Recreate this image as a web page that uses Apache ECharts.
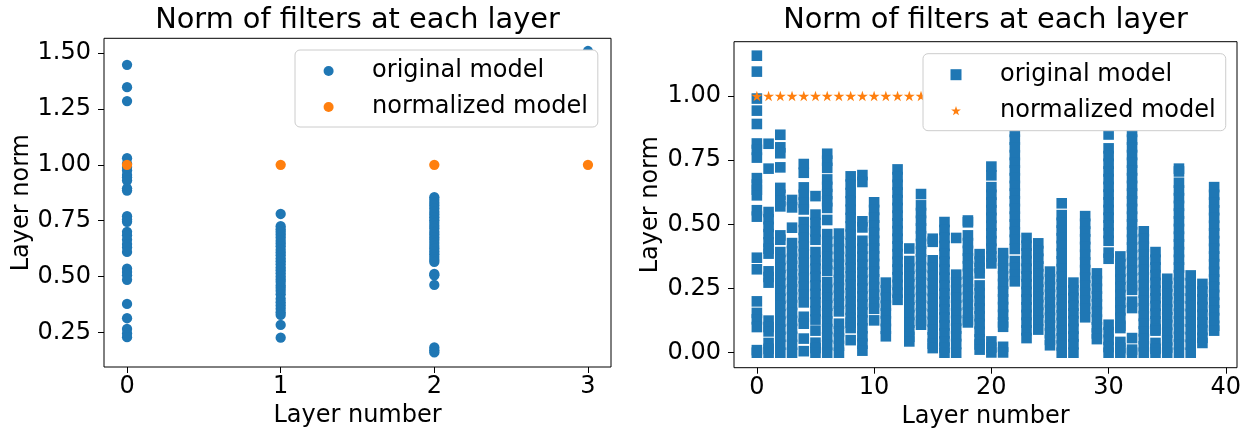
<!DOCTYPE html>
<html>
<head>
<meta charset="utf-8">
<title>Norm of filters at each layer</title>
<script src="https://cdn.jsdelivr.net/npm/echarts@6/dist/echarts.min.js"></script>
<style>
  html, body { margin: 0; padding: 0; background: #ffffff; }
  #chart { width: 1243px; height: 429px; }
</style>
</head>
<body>
<div id="chart"></div>
<script>
// ---- Small model: filter norms per layer (layers 0..3) ----
const leftLayer0 = [1.448, 1.348, 1.286, 1.03, 1.005, 0.99, 0.975, 0.955, 0.945, 0.93, 0.895, 0.885,
  0.77, 0.755, 0.745, 0.70, 0.685, 0.665, 0.645, 0.63, 0.61, 0.535, 0.52, 0.505, 0.485,
  0.377, 0.313, 0.265, 0.245, 0.228];
const leftLayer1 = [0.78, 0.725, 0.712, 0.70, 0.688, 0.675, 0.66, 0.648, 0.635, 0.62, 0.607, 0.595,
  0.58, 0.568, 0.555, 0.54, 0.528, 0.515, 0.50, 0.487, 0.475, 0.46, 0.448, 0.435, 0.42,
  0.40, 0.385, 0.37, 0.355, 0.34, 0.328, 0.283, 0.226];
const leftLayer2 = [0.855, 0.843, 0.83, 0.818, 0.805, 0.79, 0.778, 0.765, 0.752, 0.74, 0.727, 0.715,
  0.70, 0.688, 0.675, 0.663, 0.65, 0.637, 0.625, 0.612, 0.60, 0.587, 0.575, 0.565,
  0.512, 0.505, 0.462, 0.182, 0.17, 0.16];
const leftLayer3 = [1.51];
const leftNormalized = [1.0, 1.0, 1.0, 1.0];

const leftTicksX = [0, 1, 2, 3];
const leftTicksY = [0.25, 0.5, 0.75, 1.0, 1.25, 1.5];

// ---- Deep model: filter norms per layer (layers 0..39) ----
const rightOriginal = [
  [1.157, 1.095, 0.99, 0.943, 0.891, 0.815, 0.79, 0.76, 0.68, 0.655, 0.635, 0.613, 0.555, 0.53, 0.37, 0.325, 0.20, 0.155, 0.13, 0.10, 0.01, 0.0],
  [0.814, 0.717, 0.548, 0.52, 0.49, 0.462, 0.43, 0.405, 0.386, 0.317, 0.295, 0.273, 0.125, 0.10, 0.083, 0.038, 0.015, 0.0],
  [0.849, 0.80, 0.777, 0.722, 0.642, 0.615, 0.59, 0.57, 0.457, 0.44, 0.392, 0.361, 0.33, 0.302, 0.27, 0.241, 0.21, 0.182, 0.15, 0.121, 0.09, 0.062, 0.031, 0.0],
  [0.595, 0.566, 0.487, 0.427, 0.395, 0.366, 0.338, 0.305, 0.276, 0.247, 0.215, 0.186, 0.155, 0.124, 0.093, 0.062, 0.031, 0.0],
  [0.735, 0.701, 0.644, 0.615, 0.585, 0.558, 0.509, 0.478, 0.447, 0.415, 0.384, 0.352, 0.321, 0.29, 0.258, 0.227, 0.196, 0.14, 0.113, 0.055, 0.006],
  [0.61, 0.538, 0.505, 0.472, 0.44, 0.392, 0.36, 0.327, 0.295, 0.262, 0.229, 0.196, 0.162, 0.129, 0.086, 0.039, 0.018, 0.0],
  [0.775, 0.748, 0.72, 0.675, 0.646, 0.618, 0.59, 0.564, 0.517, 0.462, 0.432, 0.403, 0.374, 0.346, 0.319, 0.275, 0.245, 0.214, 0.183, 0.153, 0.122, 0.092, 0.061, 0.03, 0.0],
  [0.464, 0.434, 0.404, 0.373, 0.343, 0.313, 0.283, 0.252, 0.222, 0.191, 0.161, 0.113, 0.083, 0.055, 0.027, 0.0],
  [0.687, 0.655, 0.622, 0.59, 0.557, 0.525, 0.492, 0.46, 0.427, 0.395, 0.362, 0.33, 0.297, 0.265, 0.232, 0.20, 0.167, 0.135, 0.117, 0.096, 0.049],
  [0.692, 0.665, 0.512, 0.488, 0.436, 0.405, 0.374, 0.343, 0.312, 0.281, 0.25, 0.219, 0.188, 0.157, 0.126, 0.095, 0.064, 0.035, 0.008],
  [0.586, 0.556, 0.526, 0.496, 0.466, 0.436, 0.406, 0.376, 0.346, 0.316, 0.286, 0.256, 0.226, 0.196, 0.171, 0.126],
  [0.273, 0.243, 0.213, 0.183, 0.153, 0.123, 0.093, 0.064],
  [0.714, 0.684, 0.654, 0.624, 0.594, 0.564, 0.534, 0.504, 0.474, 0.444, 0.414, 0.384, 0.354, 0.324, 0.294, 0.264, 0.234, 0.206],
  [0.406, 0.357, 0.327, 0.297, 0.267, 0.237, 0.207, 0.177, 0.147, 0.117, 0.087, 0.062, 0.044],
  [0.618, 0.574, 0.544, 0.514, 0.484, 0.454, 0.424, 0.394, 0.364, 0.334, 0.304, 0.274, 0.244, 0.214, 0.184, 0.154, 0.124, 0.109],
  [0.444, 0.432, 0.36, 0.33, 0.30, 0.27, 0.24, 0.21, 0.18, 0.15, 0.12, 0.09, 0.06, 0.035, 0.018],
  [0.509, 0.478, 0.447, 0.416, 0.385, 0.354, 0.323, 0.292, 0.261, 0.23, 0.199, 0.168, 0.137, 0.106, 0.075, 0.044, 0.02, 0.0],
  [0.447, 0.304, 0.274, 0.244, 0.214, 0.184, 0.154, 0.124, 0.094, 0.064, 0.034, 0.0],
  [0.515, 0.508, 0.457, 0.427, 0.397, 0.367, 0.337, 0.307, 0.277, 0.247, 0.217, 0.187, 0.157, 0.127, 0.118],
  [0.384, 0.355, 0.33, 0.309, 0.262, 0.232, 0.202, 0.172, 0.142, 0.112, 0.082, 0.052, 0.032, 0.012],
  [0.725, 0.691, 0.645, 0.615, 0.585, 0.555, 0.525, 0.495, 0.465, 0.435, 0.405, 0.375, 0.348, 0.044, 0.02, 0.001],
  [0.388, 0.358, 0.328, 0.298, 0.268, 0.238, 0.208, 0.178, 0.148, 0.118, 0.101, 0.023, 0.001],
  [0.86, 0.83, 0.80, 0.77, 0.74, 0.71, 0.68, 0.65, 0.62, 0.59, 0.56, 0.53, 0.50, 0.47, 0.44, 0.404, 0.357, 0.33, 0.305, 0.278],
  [0.447, 0.417, 0.387, 0.357, 0.327, 0.297, 0.267, 0.237, 0.207, 0.177, 0.147, 0.117, 0.087, 0.057],
  [0.426, 0.396, 0.366, 0.336, 0.306, 0.276, 0.246, 0.216, 0.186, 0.156, 0.126, 0.09],
  [0.316, 0.286, 0.256, 0.226, 0.196, 0.166, 0.136, 0.106, 0.076, 0.05, 0.029],
  [0.582, 0.536, 0.506, 0.476, 0.446, 0.416, 0.386, 0.356, 0.326, 0.296, 0.266, 0.236, 0.206, 0.176, 0.146, 0.116, 0.086, 0.056, 0.028, 0.0],
  [0.273, 0.243, 0.213, 0.183, 0.153, 0.123, 0.093, 0.063, 0.033, 0.0],
  [0.532, 0.502, 0.472, 0.442, 0.412, 0.382, 0.352, 0.322, 0.292, 0.262, 0.232, 0.202, 0.172, 0.138],
  [0.309, 0.279, 0.249, 0.219, 0.189, 0.159, 0.129, 0.099, 0.075, 0.053],
  [0.85, 0.796, 0.766, 0.736, 0.706, 0.676, 0.646, 0.616, 0.586, 0.556, 0.526, 0.496, 0.466, 0.436, 0.39, 0.366, 0.109, 0.08, 0.05, 0.022, 0.0],
  [0.375, 0.345, 0.315, 0.285, 0.255, 0.225, 0.195, 0.165, 0.135, 0.105, 0.096, 0.042, 0.018, 0.0],
  [0.86, 0.83, 0.80, 0.77, 0.74, 0.71, 0.68, 0.65, 0.62, 0.59, 0.56, 0.53, 0.50, 0.47, 0.44, 0.41, 0.38, 0.35, 0.32, 0.29, 0.26, 0.245, 0.199, 0.174, 0.057, 0.012, 0.0],
  [0.473, 0.443, 0.413, 0.383, 0.353, 0.323, 0.293, 0.263, 0.233, 0.203, 0.173, 0.143, 0.113, 0.083, 0.053, 0.025, 0.0],
  [0.392, 0.362, 0.332, 0.302, 0.272, 0.242, 0.212, 0.182, 0.152, 0.122, 0.092, 0.086, 0.038, 0.015, 0.0],
  [0.288, 0.258, 0.228, 0.198, 0.168, 0.138, 0.108, 0.078, 0.048, 0.02, 0.0],
  [0.717, 0.706, 0.662, 0.632, 0.602, 0.572, 0.542, 0.512, 0.482, 0.452, 0.422, 0.392, 0.362, 0.332, 0.302, 0.272, 0.242, 0.212, 0.182, 0.152, 0.122, 0.092, 0.062, 0.032, 0.0],
  [0.301, 0.271, 0.241, 0.211, 0.181, 0.151, 0.121, 0.091, 0.061, 0.031, 0.0],
  [0.268, 0.238, 0.208, 0.178, 0.148, 0.118, 0.088, 0.058, 0.038],
  [0.645, 0.615, 0.585, 0.555, 0.525, 0.495, 0.465, 0.435, 0.405, 0.375, 0.345, 0.315, 0.285, 0.255, 0.225, 0.195, 0.165, 0.135, 0.105, 0.086]
];
const rightNormalized = [1, 1, 1, 1, 1, 1, 1, 1, 1, 1, 1, 1, 1, 1, 1, 1, 1, 1, 1, 1,
  1, 1, 1, 1, 1, 1, 1, 1, 1, 1, 1, 1, 1, 1, 1, 1, 1, 1, 1, 1];

const rightTicksX = [0, 10, 20, 30, 40];
const rightTicksY = [0, 0.25, 0.5, 0.75, 1.0];

// ---- Styling ----
const BLUE = '#1f77b4';
const ORANGE = '#ff7f0e';
const FONT = 'DejaVu Sans';

// five-pointed star marker
const STAR = 'path://M100,0L122.45,69.1L195.1,69.1L136.3,111.8L158.8,180.9L100,138.2L41.2,180.9L63.7,111.8L4.9,69.1L77.55,69.1Z';
// same star with an enlarged bounding box, so it draws a little smaller in the legend
const STAR_LEGEND = 'path://M100,-17M100,198M100,0L122.45,69.1L195.1,69.1L136.3,111.8L158.8,180.9L100,138.2L41.2,180.9L63.7,111.8L4.9,69.1L77.55,69.1Z';
const SQUARE = 'path://M0,0L10,0L10,10L0,10Z';

const toPoints = (layers) => layers.flatMap((vals, layer) => vals.map(v => [layer, v]));
const perLayer = (vals) => vals.map((v, layer) => [layer, v]);

const leftOriginalPts = toPoints([leftLayer0, leftLayer1, leftLayer2, leftLayer3]);
const leftNormalizedPts = perLayer(leftNormalized);
const rightOriginalPts = toPoints(rightOriginal);
const rightNormalizedPts = perLayer(rightNormalized);

const tickLabel = { fontFamily: FONT, fontSize: 24, color: '#000' };

function xAxisFor(gridIndex, min, max, ticks, nameGap) {
  return {
    type: 'value', gridIndex, min, max,
    name: 'Layer number', nameLocation: 'middle', nameGap,
    nameTextStyle: { fontFamily: FONT, fontSize: 24, color: '#000' },
    axisLine: { show: false, onZero: false },
    axisTick: { show: true, inside: false, length: 6, lineStyle: { color: '#000', width: 1 }, customValues: ticks },
    axisLabel: Object.assign({ margin: 8, customValues: ticks, formatter: v => String(v) }, tickLabel),
    splitLine: { show: false }
  };
}
function yAxisFor(gridIndex, min, max, ticks, nameGap) {
  return {
    type: 'value', gridIndex, min, max,
    name: 'Layer norm', nameLocation: 'middle', nameGap, nameRotate: 90,
    nameTextStyle: { fontFamily: FONT, fontSize: 24, color: '#000' },
    axisLine: { show: false, onZero: false },
    axisTick: { show: true, inside: false, length: 6, lineStyle: { color: '#000', width: 1 }, customValues: ticks },
    axisLabel: Object.assign({ margin: 13, customValues: ticks, formatter: v => v.toFixed(2) }, tickLabel),
    splitLine: { show: false }
  };
}

function legendFor(left, top, size, padLeft, icons) {
  return {
    orient: 'vertical', left, top,
    itemWidth: size, itemHeight: size, itemGap: 12,
    padding: [9, 10, 8, padLeft],
    backgroundColor: '#ffffff',
    borderColor: '#cccccc', borderWidth: 1, borderRadius: 5,
    symbolKeepAspect: true,
    selectedMode: false,
    textStyle: { fontFamily: FONT, fontSize: 24, color: '#000', padding: [0, 0, 0, 33.5] },
    data: [
      { name: 'original model', icon: icons[0] },
      { name: 'normalized model', icon: icons[1] }
    ],
    z: 10
  };
}

const gridBox = { show: true, borderColor: '#000', borderWidth: 1, backgroundColor: 'transparent',
  containLabel: false, outerBoundsMode: 'none' };

const chart = echarts.init(document.getElementById('chart'), null, { renderer: 'canvas' });
chart.setOption({
  animation: false,
  backgroundColor: '#ffffff',
  title: [
    { text: 'Norm of filters at each layer', left: 357.5, top: 6, textAlign: 'center', padding: 0,
      textStyle: { fontFamily: FONT, fontSize: 28.8, fontWeight: 'normal', color: '#000' } },
    { text: 'Norm of filters at each layer', left: 985.5, top: 6, textAlign: 'center', padding: 0,
      textStyle: { fontFamily: FONT, fontSize: 28.8, fontWeight: 'normal', color: '#000' } }
  ],
  grid: [
    Object.assign({ left: 104, top: 38.3, width: 507, height: 328.7 }, gridBox),
    Object.assign({ left: 734, top: 41.7, width: 503, height: 326 }, gridBox)
  ],
  xAxis: [
    xAxisFor(0, -0.15, 3.15, leftTicksX, 35),
    xAxisFor(1, -1.95, 40.95, rightTicksX, 35)
  ],
  yAxis: [
    yAxisFor(0, 0.0945, 1.567, leftTicksY, 61),
    yAxisFor(1, -0.0584, 1.2115, rightTicksY, 71)
  ],
  legend: [
    legendFor(295, 50, 10, 28.6, ['circle', 'circle']),
    legendFor(923, 53.7, 11, 27.5, [SQUARE, STAR_LEGEND])
  ],
  series: [
    { type: 'scatter', name: 'original model', xAxisIndex: 0, yAxisIndex: 0,
      symbol: 'circle', symbolSize: 10.3, itemStyle: { color: BLUE, opacity: 1 },
      data: leftOriginalPts, silent: true },
    { type: 'scatter', name: 'normalized model', xAxisIndex: 0, yAxisIndex: 0,
      symbol: 'circle', symbolSize: 10.3, itemStyle: { color: ORANGE, opacity: 1 },
      data: leftNormalizedPts, silent: true },
    { type: 'scatter', name: 'original model', xAxisIndex: 1, yAxisIndex: 1,
      symbol: 'rect', symbolSize: 10.6, itemStyle: { color: BLUE, opacity: 1 },
      data: rightOriginalPts, silent: true },
    { type: 'scatter', name: 'normalized model', xAxisIndex: 1, yAxisIndex: 1,
      symbol: STAR, symbolSize: 11, symbolKeepAspect: true, itemStyle: { color: ORANGE, opacity: 1 },
      data: rightNormalizedPts, silent: true }
  ]
});
</script>
</body>
</html>
